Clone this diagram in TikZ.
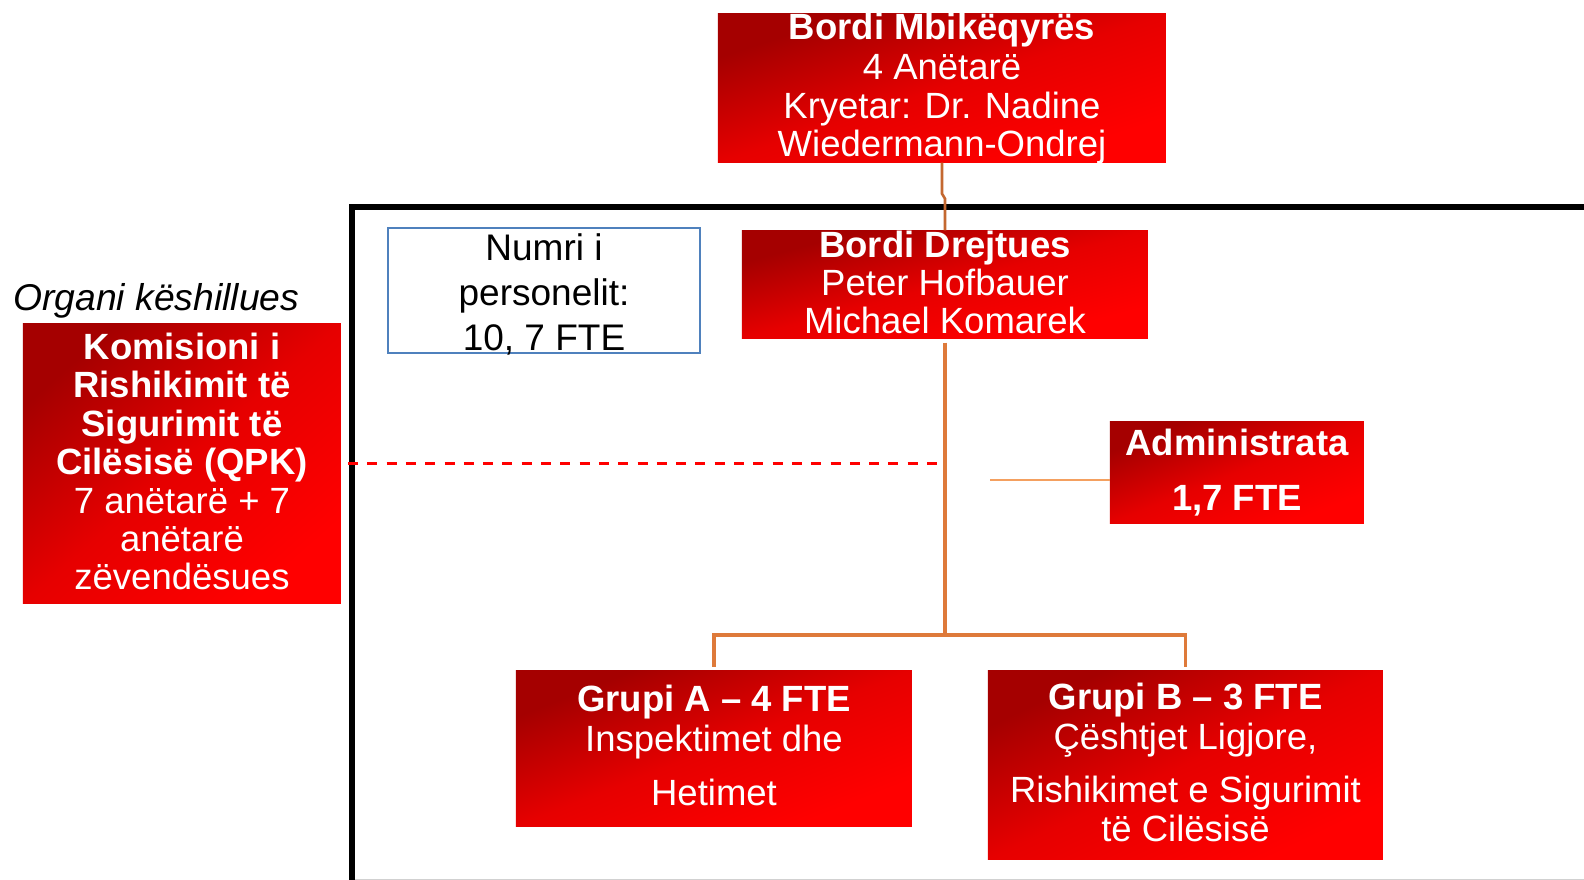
\documentclass[tikz,border=0pt]{standalone}
\usepackage{fontspec}
\setmainfont{Liberation Sans}
\definecolor{darkred}{RGB}{165,0,0}
\definecolor{midred}{RGB}{230,0,0}
\definecolor{brightred}{RGB}{255,0,0}
\definecolor{orgline}{RGB}{222,122,58}
\definecolor{orgdark}{RGB}{196,104,48}
\definecolor{admorange}{RGB}{244,160,96}
\definecolor{boxblue}{RGB}{79,129,189}
\tikzset{
  redshade/.style={top color=darkred, bottom color=brightred, middle color=midred, shading angle=45},
  wt/.style={anchor=base, inner sep=0, text=white, font=\fontsize{36.5}{38}\selectfont},
  wtb/.style={wt, font=\fontsize{36.5}{38}\selectfont\bfseries},
  bt/.style={anchor=base, inner sep=0, text=black, font=\fontsize{37}{38}\selectfont},
  conn/.style={draw=orgline, line width=3.2},
  connup/.style={draw=orgdark, line width=2.6},
  admconn/.style={draw=admorange, line width=2},
  dashconn/.style={draw=brightred, line width=3, dash pattern=on 10pt off 9.3pt},
}
% name, cx, cy, w, h
\newcommand\myredbox[5]{%
  \node[rectangle, inner sep=0, draw=none, minimum width=#4, minimum height=#5] (#1) at (#2,#3) {};
  \shade[redshade, transform canvas={shift={(#1.north west)}, xscale=#4/100, yscale=#5/100}] (0,0) rectangle (100,100);
}
\begin{document}
\begin{tikzpicture}[x=1pt,y=-1pt]
\useasboundingbox (0,0) rectangle (1584,880);
\clip (0,0) rectangle (1584,880);
\fill[white] (0,0) rectangle (1584,880);

% frame
\draw[line width=6, black] (352,900) -- (352,207) -- (1600,207);
\draw[black!18, line width=1] (355,879.5) -- (1584,879.5);

% boxes
\myredbox{mb}{942}{88}{448}{149}
\myredbox{bd}{945}{284.5}{406}{108}
\node[rectangle, draw=boxblue, line width=1.5, fill=white, minimum width=312, minimum height=125, inner sep=0] (nb) at (544,290.5) {};
\myredbox{ad}{1237}{472.5}{254}{102}
\myredbox{ga}{714}{748.5}{396}{156}
\myredbox{gb}{1185.5}{765}{395}{189}
\myredbox{kq}{182}{463.5}{318}{280}

% texts
\node[wtb] (mb1) at (942,40) {Bordi Mbikëqyrës};
\node[wt] (mb2) at (942,80) {4 Anëtarë};
\node[wt] (mb3) at (942,118) {Kryetar: Dr. Nadine};
\node[wt] (mb4) at (942,157) {Wiedermann-Ondrej};

\node[wtb] (bd1) at (945,257) {Bordi Drejtues};
\node[wt] (bd2) at (945,295.5) {Peter Hofbauer};
\node[wt] (bd3) at (945,333.5) {Michael Komarek};

\node[bt] (nb1) at (544,260) {Numri i};
\node[bt] (nb2) at (544,305) {personelit:};
\node[bt] (nb3) at (544,350) {10, 7 FTE};

\node[wtb] (ad1) at (1237,455) {Administrata};
\node[wtb] (ad2) at (1237,510) {1,7 FTE};

\node[wtb] (ga1) at (714,711.5) {Grupi A – 4 FTE};
\node[wt] (ga2) at (714,751.5) {Inspektimet dhe};
\node[wt] (ga3) at (714,805) {Hetimet};

\node[wtb] (gb1) at (1185.5,709.5) {Grupi B – 3 FTE};
\node[wt] (gb2) at (1185.5,749) {Çështjet Ligjore,};
\node[wt] (gb3) at (1185.5,802.5) {Rishikimet e Sigurimit};
\node[wt] (gb4) at (1185.5,841) {të Cilësisë};

\node[wtb] (kq1) at (182,359) {Komisioni i};
\node[wtb] (kq2) at (182,397.5) {Rishikimit të};
\node[wtb] (kq3) at (182,436) {Sigurimit të};
\node[wtb] (kq4) at (182,474) {Cilësisë (QPK)};
\node[wt] (kq5) at (182,513) {7 anëtarë + 7};
\node[wt] (kq6) at (182,551.5) {anëtarë};
\node[wt] (kq7) at (182,589) {zëvendësues};

\node[anchor=base west, inner sep=0, font=\fontsize{37.3}{38}\selectfont\itshape] (org) at (13,310) {Organi këshillues};

% connectors
\draw[connup] (mb.south) -- ++(0,31) -- ++(3,5) -- (bd.north);
\coordinate (hub) at (945,635);
\draw[conn, shorten <=4] (bd.south) -- (hub);
\draw[conn, shorten >=3] (hub) -| (ga.north);
\draw[conn, shorten >=3] (hub) -| (gb.north);
\coordinate (adl) at (990,480);
\draw[admconn] (adl) -- (adl -| ad.west);
\coordinate (dl) at (348,463);
\coordinate (dr) at (937,463);
\draw[dashconn] (dl) -- (dr);
\end{tikzpicture}
\end{document}
